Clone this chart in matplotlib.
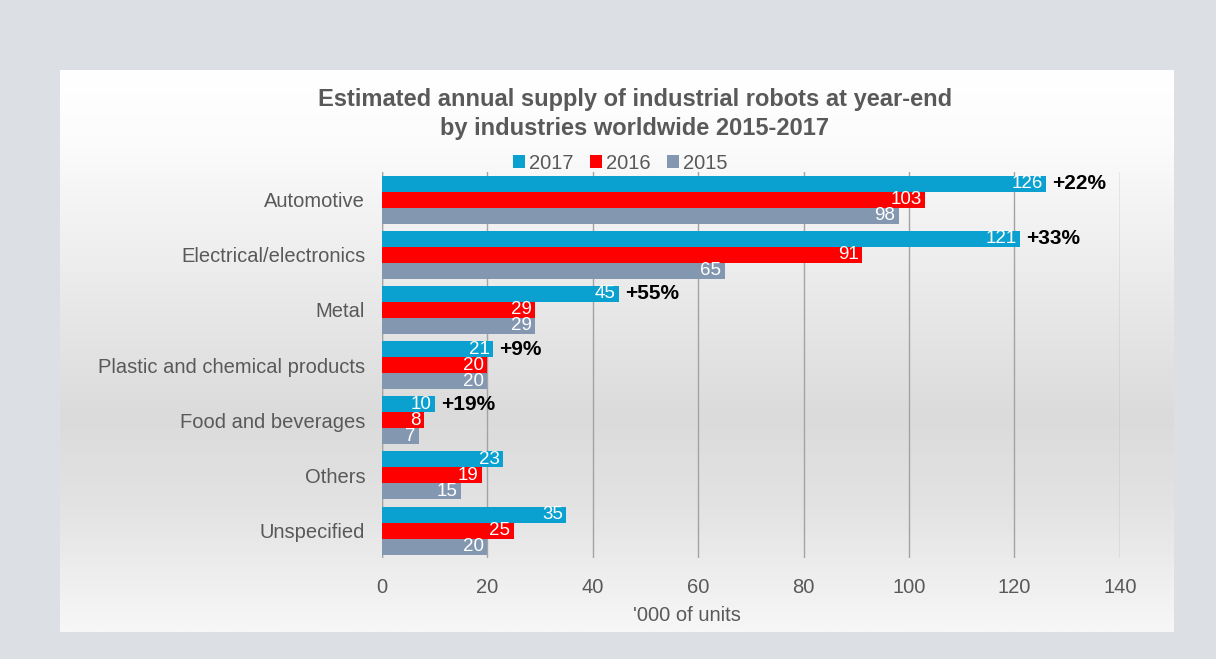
import matplotlib
matplotlib.use("Agg")
import matplotlib.pyplot as plt
from matplotlib.colors import LinearSegmentedColormap
import numpy as np

categories = ["Automotive", "Electrical/electronics", "Metal", "Plastic and chemical products",
              "Food and beverages", "Others", "Unspecified"]
v2017 = [126, 121, 45, 21, 10, 23, 35]
v2016 = [103, 91, 29, 20, 8, 19, 25]
v2015 = [98, 65, 29, 20, 7, 15, 20]
growth = ["+22%", "+33%", "+55%", "+9%", "+19%", None, None]
xticks = [0, 20, 40, 60, 80, 100, 120, 140]

plt.rcParams['font.family'] = ['Liberation Sans Narrow', 'Liberation Sans', 'DejaVu Sans']

c17, c16, c15 = "#0aa0cf", "#ff0000", "#8497b0"
txt = "#595959"

fig = plt.figure(figsize=(12.16, 6.59), dpi=100)
fig.patch.set_facecolor("#dcdfe4")

# gradient panel
bg = fig.add_axes([0.049, 0.041, 0.916, 0.853], zorder=-5)
cmap = LinearSegmentedColormap.from_list(
    "panel", [(0.0, "#ffffff"), (0.12, "#fcfcfc"), (0.62, "#dbdbdb"),
              (0.78, "#e3e3e3"), (1.0, "#f7f7f7")])
grad = np.linspace(0, 1, 256).reshape(-1, 1)
bg.imshow(grad, aspect="auto", cmap=cmap, extent=(0, 1, 1, 0))
bg.set_axis_off()

ax = fig.add_axes([0.314, 0.153, 0.607, 0.586])
ax.set_zorder(2)
ax.set_facecolor("none")
y = np.arange(len(categories))
h = 0.29
series = [(v2017, c17, "2017", -h), (v2016, c16, "2016", 0), (v2015, c15, "2015", h)]
for vals, col, lab, off in series:
    bars = ax.barh(y + off, vals, height=h, color=col, label=lab, zorder=3)
    for b, v in zip(bars, vals):
        ax.text(b.get_width() - 0.6, b.get_y() + b.get_height() / 2, str(v),
                ha="right", va="center", color="white", fontsize=13.5, zorder=4)
for i, g in enumerate(growth):
    if g:
        ax.text(v2017[i] + 1.2, y[i] - h, g, ha="left", va="center",
                fontsize=15, fontweight="bold", color="black", zorder=4)

ax.set_ylim(len(categories) - 0.5, -0.5)
ax.set_xlim(0, 140)
ax.set_xticks(xticks)
ax.set_xticklabels([str(t) for t in xticks], fontsize=14.5, color=txt)
ax.set_yticks(y)
ax.set_yticklabels(categories, fontsize=14.5, color=txt)
ax.tick_params(axis="both", length=0)
ax.tick_params(axis="x", pad=14)
ax.tick_params(axis="y", pad=12)
ax.grid(axis="x", color="#a3a3a3", linewidth=1, zorder=1)
for s in ax.spines.values():
    s.set_visible(False)
ax.axvline(0, color="#a3a3a3", linewidth=1, zorder=2)
ax.set_xlabel("'000 of units", fontsize=14.5, color=txt)
ax.xaxis.set_label_coords(0.413, -0.124)

fig.text(0.522, 0.827, "Estimated annual supply of industrial robots at year-end\nby industries worldwide 2015-2017",
         ha="center", va="center", fontsize=17, fontweight="bold", color="#595959", linespacing=1.38)

leg = fig.legend(loc="center", bbox_to_anchor=(0.51, 0.752), ncol=3, frameon=False,
                 fontsize=14.5, handlelength=0.6, handleheight=0.6, handletextpad=0.2,
                 columnspacing=0.8, labelcolor=txt)

fig.savefig("out.png", dpi=100, facecolor=fig.get_facecolor())
